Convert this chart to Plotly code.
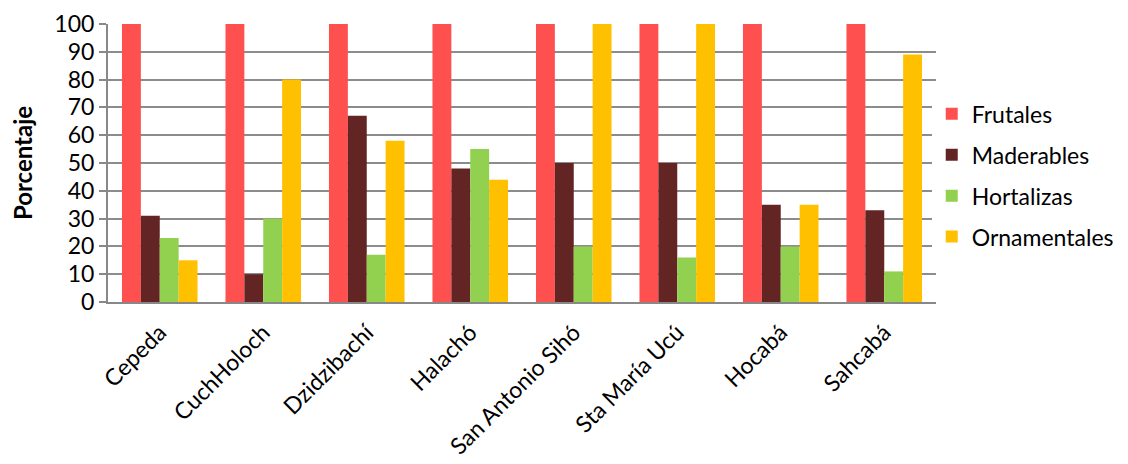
import plotly.graph_objects as go

localidades = ["Cepeda", "CuchHoloch", "Dzidzibachí", "Halachó",
               "San Antonio Sihó", "Sta María Ucú", "Hocabá", "Sahcabá"]
frutales = [100, 100, 100, 100, 100, 100, 100, 100]
maderables = [31, 10, 67, 48, 50, 50, 35, 33]
hortalizas = [23, 30, 17, 55, 20, 16, 20, 11]
ornamentales = [15, 80, 58, 44, 100, 100, 35, 89]
y_ticks = list(range(0, 101, 10))

series = [
    ("Frutales", frutales, "#FF5050"),
    ("Maderables", maderables, "#632523"),
    ("Hortalizas", hortalizas, "#92D050"),
    ("Ornamentales", ornamentales, "#FFC000"),
]

fig = go.Figure()
for i, (name, vals, color) in enumerate(series):
    fig.add_trace(go.Bar(
        x=localidades, y=vals, name=name,
        marker=dict(color=color, line=dict(width=0)),
        legendgroup=f"g{i}",
    ))

font_family = "Lato, 'Open Sans', sans-serif"
fig.update_layout(
    width=1128, height=464,
    margin=dict(l=108, r=192, t=24, b=162, autoexpand=False),
    paper_bgcolor="white", plot_bgcolor="white",
    barmode="group", bargap=0.27, bargroupgap=0,
    font=dict(family=font_family, size=22, color="black"),
    legend=dict(
        xref="container", yref="container",
        x=0.826, xanchor="left", y=0.622, yanchor="middle",
        font=dict(size=23), traceorder="grouped", tracegroupgap=8,
        itemwidth=30,
    ),
    xaxis=dict(
        tickangle=-45, tickfont=dict(size=23),
        showline=True, linecolor="#888888", linewidth=2,
        showgrid=False, ticks="", ticklabelstandoff=6,
        automargin=False,
    ),
    yaxis=dict(
        range=[0, 100], tickvals=y_ticks, tickfont=dict(size=23),
        showgrid=True, gridcolor="#8C8C8C", gridwidth=2,
        showline=True, linecolor="#888888", linewidth=2,
        ticks="outside", ticklen=7, tickcolor="#888888", tickwidth=2,
        zeroline=False, automargin=False,
        title=dict(text="<b>Porcentaje</b>", font=dict(size=24), standoff=15),
    ),
)

fig.write_html("out.html")
